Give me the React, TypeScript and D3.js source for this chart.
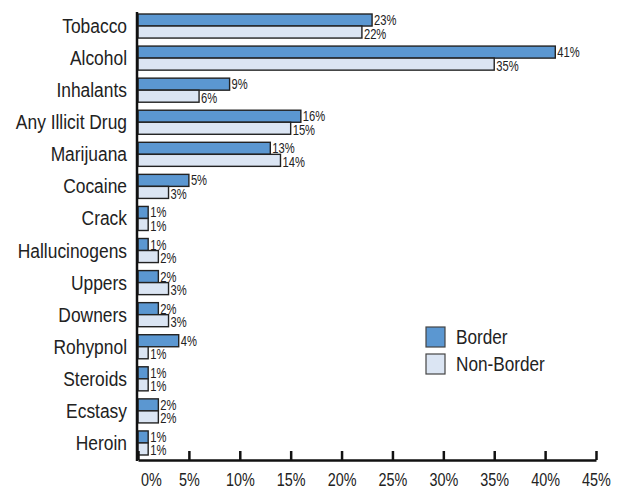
import React, { useEffect, useRef } from 'react'
import { select, scaleLinear, scaleBand, axisBottom } from 'd3'

const substances = ['Tobacco', 'Alcohol', 'Inhalants', 'Any Illicit Drug', 'Marijuana', 'Cocaine', 'Crack',
  'Hallucinogens', 'Uppers', 'Downers', 'Rohypnol', 'Steroids', 'Ecstasy', 'Heroin']
const border = [23, 41, 9, 16, 13, 5, 1, 1, 2, 2, 4, 1, 2, 1]
const nonBorder = [22, 35, 6, 15, 14, 3, 1, 2, 3, 3, 1, 1, 2, 1]
const seriesNames = ['Border', 'Non-Border']
const xTicks = [0, 5, 10, 15, 20, 25, 30, 35, 40, 45]

const FONT = '"Liberation Sans", Arial, Helvetica, sans-serif'
const colors = ['#5b97d1', '#dbe5f3']

// the reference uses a condensed face, so squeeze the text horizontally
const squeeze = (px: number, py: number, k: number) => `translate(${px},${py}) scale(${k},1)`

function App() {
  const ref = useRef<SVGSVGElement>(null)

  useEffect(() => {
    const svg = select(ref.current)
    svg.selectAll('*').remove()

    const x = scaleLinear().domain([0, 45]).range([138, 596])
    const y = scaleBand<string>().domain(substances).range([10, 459]).paddingInner(0.25).paddingOuter(0.125)
    const sub = scaleBand<number>().domain([0, 1]).range([0, y.bandwidth()])

    const series = [border, nonBorder]

    // bars
    series.forEach((vals, si) => {
      const g = svg.append('g')
      g.selectAll('rect')
        .data(substances)
        .enter()
        .append('rect')
        .attr('x', x(0))
        .attr('y', d => y(d)! + sub(si)!)
        .attr('width', (d, i) => x(vals[i]) - x(0))
        .attr('height', sub.bandwidth())
        .attr('fill', colors[si])
        .attr('stroke', '#222')
        .attr('stroke-width', 1.4)

      g.selectAll('text')
        .data(substances)
        .enter()
        .append('text')
        .attr('transform', (d, i) => squeeze(x(vals[i]) + 2, y(d)! + sub(si)! + sub.bandwidth() / 2 + (si === 0 ? 5 : 6.5), 0.8))
        .attr('font-family', FONT)
        .attr('font-size', 14)
        .attr('fill', '#222')
        .text((d, i) => vals[i] + '%')
    })

    // category labels
    svg.append('g')
      .selectAll('text')
      .data(substances)
      .enter()
      .append('text')
      .attr('transform', d => squeeze(127, y(d)! + y.bandwidth() / 2 + 7, 0.87))
      .attr('text-anchor', 'end')
      .attr('font-family', FONT)
      .attr('font-size', 20)
      .attr('fill', '#222')
      .text(d => d)

    // y axis line
    svg.append('line')
      .attr('x1', x(0) - 1).attr('x2', x(0) - 1)
      .attr('y1', 12).attr('y2', 461)
      .attr('stroke', '#111').attr('stroke-width', 2.5)

    // x axis
    const ax = svg.append('g')
      .attr('transform', 'translate(0,460)')
      .call(axisBottom(x).tickValues(xTicks).tickSizeInner(-9).tickSizeOuter(0).tickFormat(d => d + '%'))
    ax.select('.domain').attr('stroke', '#111').attr('stroke-width', 2.5)
    ax.selectAll('.tick line').attr('stroke', '#111').attr('stroke-width', 2.5)
    ax.selectAll('.tick text')
      .attr('y', 0)
      .attr('dy', 0)
      .attr('transform', squeeze(0, 26, 0.8))
      .attr('font-family', FONT)
      .attr('font-size', 18)
      .attr('fill', '#222')
    ax.selectAll('.tick text').filter((d: any) => d === 0).attr('transform', squeeze(13, 26, 0.8))

    // legend
    const lg = svg.append('g').attr('transform', 'translate(426,327)')
    seriesNames.forEach((name, i) => {
      lg.append('rect')
        .attr('x', 0).attr('y', i * 27)
        .attr('width', 19).attr('height', 20)
        .attr('fill', colors[i]).attr('stroke', '#444').attr('stroke-width', 1.2)
      lg.append('text')
        .attr('transform', squeeze(30, i * 27 + 17, 0.86))
        .attr('font-family', FONT)
        .attr('font-size', 20)
        .attr('fill', '#222')
        .text(name)
    })
  }, [])

  return (
    <svg ref={ref} width={619} height={489}
      style={{ position: 'absolute', left: 0, top: 0, background: '#fff' }} />
  )
}

export default App
